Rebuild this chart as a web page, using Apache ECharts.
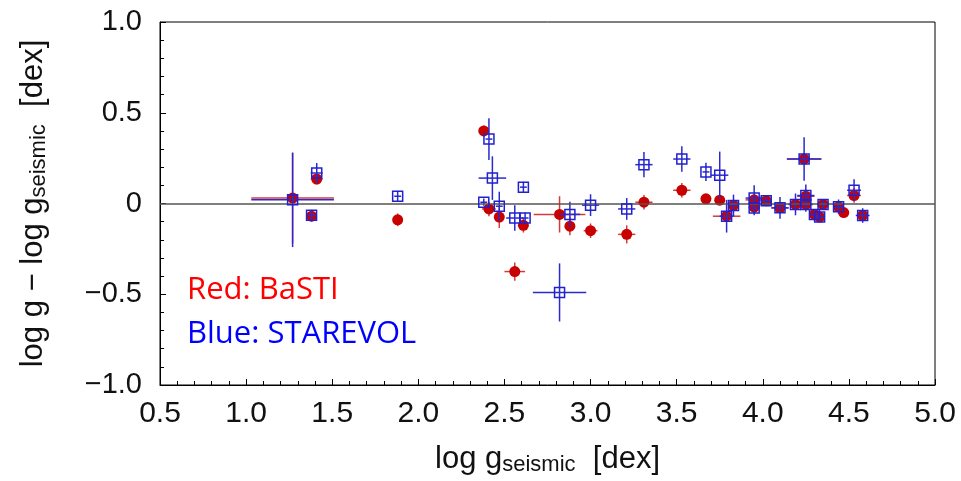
<!DOCTYPE html>
<html lang="en">

<head>
    <meta charset="UTF-8">
    <title>log g comparison</title>
    <script src="https://cdn.jsdelivr.net/npm/echarts/dist/echarts.min.js"></script>
    <style>
        html, body { margin: 0; padding: 0; background: #fff; }
        #chart { width: 961px; height: 481px; }
    </style>
</head>

<body>
    <div id="chart"></div>

    <script>
        // BaSTI (red): x, y, x error, y error
        const redX    = [1.27, 1.38, 1.41, 1.88, 2.38, 2.41, 2.47, 2.56, 2.61, 2.82, 2.88, 3.00, 3.21, 3.31, 3.53, 3.67, 3.75, 3.79, 3.83, 3.95, 3.95, 4.02, 4.10, 4.19, 4.24, 4.25, 4.25, 4.30, 4.33, 4.35, 4.44, 4.47, 4.53, 4.58];
        const redY    = [0.03, -0.07, 0.135, -0.09, 0.40, -0.03, -0.075, -0.375, -0.12, -0.06, -0.125, -0.15, -0.17, 0.007, 0.073, 0.026, 0.018, -0.07, -0.01, 0.02, -0.02, 0.015, -0.024, -0.005, 0.245, 0.04, -0.005, -0.06, -0.075, -0.005, -0.018, -0.05, 0.044, -0.066];
        const redXErr = [0.24, 0.02, 0.035, 0.02, 0.02, 0.04, 0.02, 0.06, 0.02, 0.15, 0.02, 0.04, 0.05, 0.05, 0.05, 0.02, 0.02, 0.08, 0.03, 0.05, 0.03, 0.03, 0.05, 0.04, 0.10, 0.05, 0.04, 0.03, 0.03, 0.03, 0.03, 0.03, 0.04, 0.03];
        const redYErr = [0.25, 0.03, 0.03, 0.035, 0.03, 0.04, 0.06, 0.05, 0.04, 0.10, 0.05, 0.04, 0.05, 0.04, 0.04, 0.02, 0.02, 0.02, 0.02, 0.02, 0.02, 0.02, 0.02, 0.02, 0.03, 0.02, 0.02, 0.02, 0.02, 0.02, 0.02, 0.02, 0.04, 0.02];

        // STAREVOL (blue)
        const blueX    = [1.27, 1.38, 1.41, 1.88, 2.41, 2.43, 2.38, 2.47, 2.56, 2.62, 2.61, 2.88, 3.00, 3.21, 3.31, 3.53, 2.82, 3.67, 3.75, 3.79, 3.83, 3.95, 3.95, 4.02, 4.10, 4.19, 4.24, 4.25, 4.25, 4.30, 4.33, 4.35, 4.44, 4.53, 4.58];
        const blueY    = [0.02, -0.065, 0.168, 0.04, 0.355, 0.14, 0.007, -0.015, -0.08, -0.08, 0.09, -0.06, -0.009, -0.03, 0.214, 0.245, -0.49, 0.174, 0.156, -0.07, -0.011, 0.03, -0.025, 0.015, -0.024, -0.005, 0.245, 0.044, -0.005, -0.06, -0.075, -0.005, -0.018, 0.073, -0.066];
        const blueXErr = [0.24, 0.02, 0.035, 0.02, 0.02, 0.08, 0.02, 0.02, 0.05, 0.02, 0.02, 0.06, 0.05, 0.05, 0.05, 0.05, 0.155, 0.02, 0.05, 0.04, 0.03, 0.05, 0.03, 0.03, 0.05, 0.04, 0.10, 0.05, 0.04, 0.03, 0.03, 0.03, 0.03, 0.04, 0.04];
        const blueYErr = [0.26, 0.03, 0.055, 0.03, 0.115, 0.12, 0.02, 0.08, 0.07, 0.03, 0.03, 0.07, 0.06, 0.06, 0.07, 0.07, 0.16, 0.05, 0.13, 0.09, 0.06, 0.07, 0.04, 0.02, 0.06, 0.06, 0.12, 0.06, 0.04, 0.02, 0.02, 0.03, 0.04, 0.06, 0.04];

        const xTicks = [0.5, 1.0, 1.5, 2.0, 2.5, 3.0, 3.5, 4.0, 4.5, 5.0];
        const yTicks = [-1.0, -0.5, 0, 0.5, 1.0];
        const yTickLabels = ['\u22121.0', '\u22120.5', '0', '0.5', '1.0'];

        const tickFont = "'Liberation Sans', sans-serif";
        const titleRich = {
            a: { fontFamily: tickFont, fontSize: 31, color: '#111' },
            s: { fontFamily: tickFont, fontSize: 22, color: '#111', padding: [11, 0, 0, 0] }
        };

        function pack(xs, ys, xe, ye) {
            return xs.map((x, i) => [x, ys[i], xe[i], ye[i]]);
        }

        // error bars drawn with the axis scales
        function errorBars(color) {
            return function (params, api) {
                const x = api.value(0), y = api.value(1);
                const ex = api.value(2), ey = api.value(3);
                const l = api.coord([x - ex, y]), r = api.coord([x + ex, y]);
                const t = api.coord([x, y + ey]), b = api.coord([x, y - ey]);
                const st = { stroke: color, lineWidth: 1.5 };
                return {
                    type: 'group',
                    children: [
                        { type: 'line', shape: { x1: l[0], y1: l[1], x2: r[0], y2: r[1] }, style: st },
                        { type: 'line', shape: { x1: t[0], y1: t[1], x2: b[0], y2: b[1] }, style: st }
                    ]
                };
            };
        }

        const redData = pack(redX, redY, redXErr, redYErr);
        const blueData = pack(blueX, blueY, blueXErr, blueYErr);

        const chart = echarts.init(document.getElementById('chart'));
        chart.setOption({
            animation: false,
            grid: {
                left: 160, right: 26, top: 22, bottom: 95,
                show: true, borderColor: '#000', borderWidth: 1
            },
            xAxis: {
                type: 'value', min: 0.5, max: 5.0, interval: 0.5,
                name: '{a|log g}{s|seismic}{a|  [dex]}',
                nameLocation: 'middle', nameGap: 58,
                nameTextStyle: { rich: titleRich },
                axisLine: { onZero: false, lineStyle: { color: '#000', width: 1 } },
                axisTick: { inside: true, length: 6, lineStyle: { color: '#000' } },
                minorTick: { show: true, splitNumber: 5, length: 4, lineStyle: { color: '#000' } },
                splitLine: { show: false },
                axisLabel: {
                    fontFamily: tickFont, fontSize: 30, color: '#111', margin: 14,
                    formatter: v => {
                        const i = xTicks.findIndex(t => Math.abs(t - v) < 1e-6);
                        return i >= 0 ? xTicks[i].toFixed(1) : '';
                    }
                }
            },
            yAxis: {
                type: 'value', min: -1.0, max: 1.0, interval: 0.5,
                name: '{a|log g \u2212 log g}{s|seismic}{a|  [dex]}',
                nameLocation: 'middle', nameGap: 110, nameRotate: 90,
                nameTextStyle: { rich: titleRich },
                axisLine: { onZero: false, lineStyle: { color: '#000', width: 1 } },
                axisTick: { inside: true, length: 6, lineStyle: { color: '#000' } },
                minorTick: { show: true, splitNumber: 5, length: 4, lineStyle: { color: '#000' } },
                splitLine: { show: false },
                axisLabel: {
                    fontFamily: tickFont, fontSize: 29, color: '#111', margin: 18,
                    formatter: v => {
                        const i = yTicks.findIndex(t => Math.abs(t - v) < 1e-6);
                        return i >= 0 ? yTickLabels[i] : '';
                    }
                }
            },
            series: [
                {
                    name: 'BaSTI err', type: 'custom', z: 2,
                    renderItem: errorBars('#d43a3a'),
                    encode: { x: 0, y: 1 },
                    data: redData
                },
                {
                    name: 'BaSTI', type: 'scatter', z: 3,
                    symbol: 'circle', symbolSize: 11,
                    itemStyle: { color: '#c80000', opacity: 1 },
                    data: redData.map(d => [d[0], d[1]]),
                    markLine: {
                        silent: true, symbol: ['none', 'none'], label: { show: false },
                        animation: false,
                        lineStyle: { color: '#555', width: 1.5, type: 'solid' },
                        emphasis: { disabled: true },
                        data: [{ yAxis: 0, lineStyle: { type: 'solid', color: '#555', width: 1.5 } }]
                    }
                },
                {
                    name: 'STAREVOL err', type: 'custom', z: 4,
                    renderItem: errorBars('#2a2ad0'),
                    encode: { x: 0, y: 1 },
                    data: blueData
                },
                {
                    name: 'STAREVOL', type: 'scatter', z: 5,
                    symbol: 'rect', symbolSize: 10,
                    itemStyle: { color: 'rgba(0,0,0,0)', borderColor: '#2020d0', borderWidth: 1.5, opacity: 1 },
                    data: blueData.map(d => [d[0], d[1]])
                }
            ],
            graphic: [
                {
                    type: 'text', left: 187, top: 275,
                    style: { text: 'Red: BaSTI', fill: '#ff0000', font: "31px 'Open Sans', sans-serif" }
                },
                {
                    type: 'text', left: 187, top: 319,
                    style: { text: 'Blue: STAREVOL', fill: '#0000ff', font: "31px 'Open Sans', sans-serif" }
                }
            ]
        });
    </script>
</body>

</html>
